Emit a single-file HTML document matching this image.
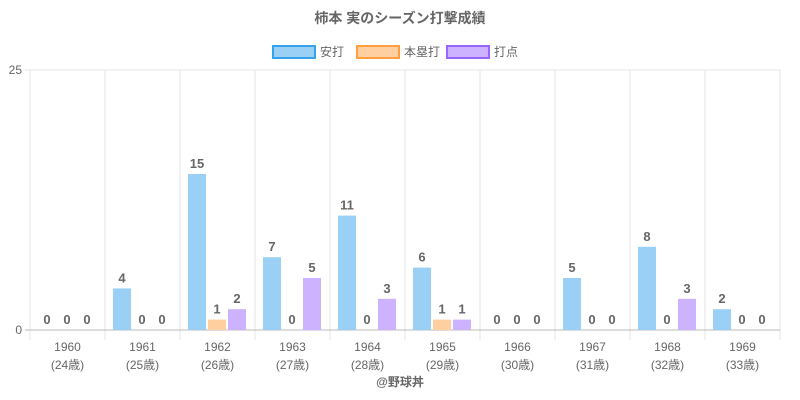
<!DOCTYPE html>
<html><head><meta charset="utf-8">
<style>
body{margin:0;background:#fff;}
svg{display:block;font-family:"Liberation Sans","Noto Sans CJK JP",sans-serif;}
</style></head>
<body>
<svg id="chart" width="800" height="400">
<text x="400" y="23" text-anchor="middle" font-size="14" font-weight="bold" fill="#666">柿本 実のシーズン打撃成績</text>
<g>
<rect x="273" y="46" width="42" height="12" fill="#9ad0f5" stroke="#36a2eb" stroke-width="2"/>
<text x="320" y="56" font-size="12" fill="#666">安打</text>
<rect x="357" y="46" width="42" height="12" fill="#ffcf9f" stroke="#ff9f40" stroke-width="2"/>
<text x="404" y="56" font-size="12" fill="#666">本塁打</text>
<rect x="447" y="46" width="42" height="12" fill="#ccb2ff" stroke="#9966ff" stroke-width="2"/>
<text x="494" y="56" font-size="12" fill="#666">打点</text>
</g>
<g id="plot"></g>
<text x="400" y="386" text-anchor="middle" font-size="12" font-weight="bold" fill="#666">@野球丼</text>
</svg>
<script>
const categories=["1960","1961","1962","1963","1964","1965","1966","1967","1968","1969"];
const ages=["(24歳)","(25歳)","(26歳)","(27歳)","(28歳)","(29歳)","(30歳)","(31歳)","(32歳)","(33歳)"];
const hits=[0,4,15,7,11,6,0,5,8,2];
const homeRuns=[0,0,1,0,0,1,0,0,0,0];
const rbis=[0,0,2,5,3,1,0,0,3,0];
const yTicks=[0,25];
const yMax=25;
const NS="http://www.w3.org/2000/svg";
const g=document.getElementById("plot");
const x0=30,x1=780,yTop=70,yBot=330;
const cw=(x1-x0)/categories.length;
const y=v=>yBot-(v/yMax)*(yBot-yTop);
const xc=i=>x0+i*cw;
function el(t,a){const e=document.createElementNS(NS,t);for(const k in a)e.setAttribute(k,a[k]);g.appendChild(e);return e;}
for(let i=0;i<=categories.length;i++){
  const l=el("line",{x1:xc(i),x2:xc(i),y1:yTop,y2:yBot+10,stroke:"#e5e5e5"});
  
  
}
yTicks.forEach(t=>{
  const l=el("line",{x1:x0-5,x2:x1,y1:y(t),y2:y(t),stroke:t===0?"#bbb":"#e5e5e5"});
  
  
  const tx=el("text",{x:22,y:y(t)+4,"text-anchor":"end","font-size":"12",fill:"#666"});
  tx.textContent=t;
  
  
});
const series=[[hits,"#9ad0f5",8],[homeRuns,"#ffcf9f",28],[rbis,"#ccb2ff",48]];
categories.forEach((c,i)=>{
  series.forEach(([arr,col,off])=>{
    const bx=xc(i)+off,v=arr[i];
    const r=el("rect",{x:bx,y:y(v),width:18,height:yBot-y(v),fill:col});
    
    
    const t=el("text",{x:bx+9,y:y(v)-6,"text-anchor":"middle","font-size":"13","font-weight":"bold",fill:"#666"});
    t.textContent=v;
    
    
  });
  const t1=el("text",{x:xc(i)+cw/2,y:351,"text-anchor":"middle","font-size":"12",fill:"#666"});
  t1.textContent=c;
  
  
  const t2=el("text",{x:xc(i)+cw/2,y:369,"text-anchor":"middle","font-size":"12",fill:"#666"});
  t2.textContent=ages[i];
  
  
});
</script>
</body></html>
